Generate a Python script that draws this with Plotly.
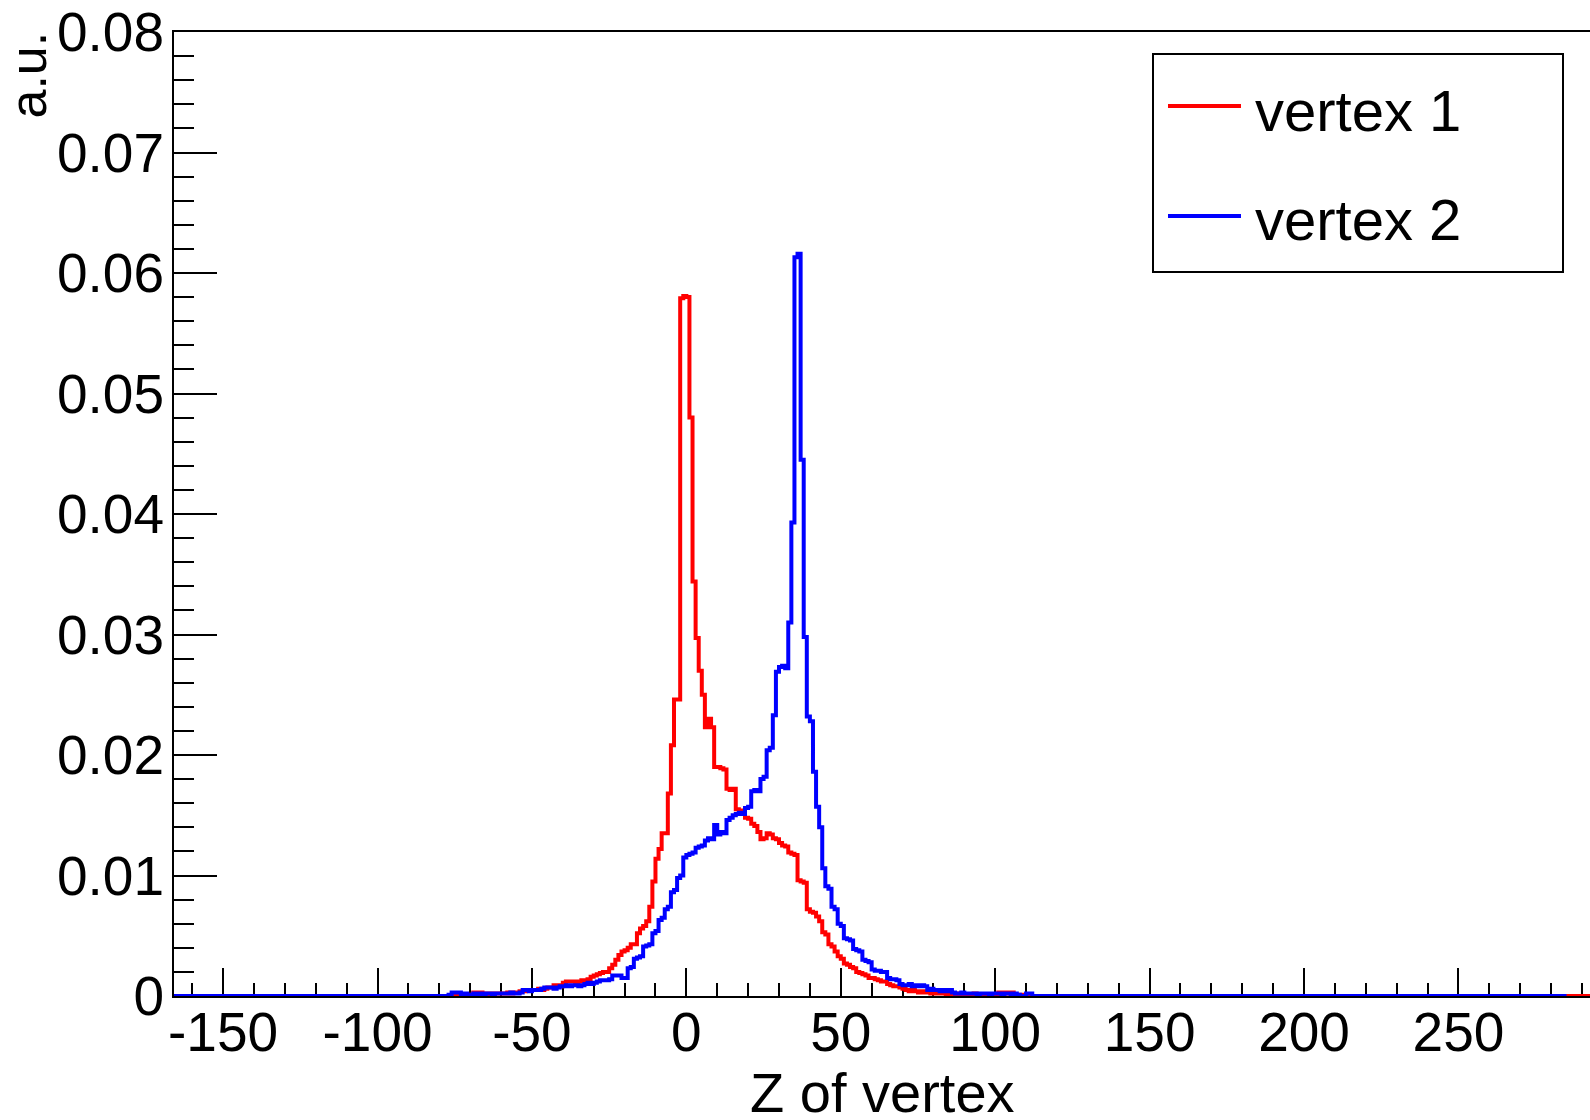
import numpy as np
import plotly.graph_objects as go

# ---------------- data ----------------
BIN_WIDTH = 1.0
Z_FIRST = -80                 # left edge of first listed bin
RED_HIST_RANGE = (-170, 300)  # full histogram extent (zero outside listed bins)
BLUE_HIST_RANGE = (-170, 285)

# vertex 1 (red), bins of width 1 from z = -80 to z = 112
vertex1 = [
    0, 0, 0, 0, 0, 0, 0, 0.0001, 0, 0.0001,                                   # -80..-71
    0.0001, 0.0003, 0.0003, 0.0003, 0.0002, 0.0001, 0.0002, 0.0001, 0.0002, 0.0002,  # -70..-61
    0.0002, 0.0002, 0.0003, 0.0002, 0.0003, 0.0003, 0.0004, 0.0004, 0.0005, 0.0005,  # -60..-51
    0.0005, 0.0005, 0.0006, 0.0005, 0.0006, 0.0007, 0.0007, 0.0009, 0.0009, 0.0008,  # -50..-41
    0.0011, 0.0012, 0.0012, 0.0012, 0.0011, 0.0012, 0.0013, 0.0012, 0.0014, 0.0016,  # -40..-31
    0.0017, 0.0018, 0.0019, 0.0020, 0.0020, 0.0023, 0.0026, 0.0030, 0.0034, 0.0037,  # -30..-21
    0.0038, 0.0040, 0.0043, 0.0043, 0.0052, 0.0056, 0.0058, 0.0062, 0.0074, 0.0095,  # -20..-11
    0.0114, 0.0122, 0.0135, 0.0135, 0.0168, 0.0208, 0.0246, 0.0246, 0.0579, 0.0581,  # -10..-1
    0.0580, 0.0480, 0.0344, 0.0297, 0.0270, 0.0250, 0.0223, 0.0230, 0.0223, 0.0190,  # 0..9
    0.0190, 0.0189, 0.0188, 0.0172, 0.0171, 0.0172, 0.0155, 0.0154, 0.0153, 0.0148,  # 10..19
    0.0147, 0.0143, 0.0141, 0.0136, 0.0130, 0.0131, 0.0135, 0.0134, 0.0131, 0.0130,  # 20..29
    0.0127, 0.0125, 0.0124, 0.0119, 0.0118, 0.0117, 0.0096, 0.0095, 0.0094, 0.0072,  # 30..39
    0.0070, 0.0069, 0.0066, 0.0062, 0.0053, 0.0051, 0.0043, 0.0041, 0.0037, 0.0033,  # 40..49
    0.0031, 0.0027, 0.0026, 0.0024, 0.0023, 0.0020, 0.0019, 0.0018, 0.0017, 0.0015,  # 50..59
    0.0015, 0.0014, 0.0013, 0.0012, 0.0012, 0.0010, 0.0009, 0.0008, 0.0008, 0.0007,  # 60..69
    0.0006, 0.0005, 0.0004, 0.0005, 0.0004, 0.0003, 0.0004, 0.0003, 0.0003, 0.0002,  # 70..79
    0.0003, 0.0002, 0.0002, 0.0002, 0.0001, 0.0002, 0.0001, 0.0001, 0.0002, 0.0001,  # 80..89
    0.0001, 0.0001, 0.0001, 0.0002, 0.0001, 0.0001, 0.0001, 0.0001, 0.0001, 0.0001,  # 90..99
    0.0001, 0.0003, 0.0002, 0.0003, 0.0002, 0.0003, 0.0001, 0.0001, 0, 0.0001,       # 100..109
    0, 0,                                                                            # 110..111
]

# vertex 2 (blue), same binning
vertex2 = [
    0, 0, 0, 0.0001, 0.0003, 0.0003, 0.0003, 0.0001, 0.0002, 0.0001,                 # -80..-71
    0.0001, 0.0002, 0.0001, 0.0002, 0.0001, 0.0002, 0.0002, 0.0001, 0.0002, 0.0002,  # -70..-61
    0.0002, 0.0002, 0.0002, 0.0003, 0.0002, 0.0002, 0.0003, 0.0005, 0.0005, 0.0004,  # -60..-51
    0.0005, 0.0005, 0.0005, 0.0006, 0.0007, 0.0007, 0.0007, 0.0006, 0.0007, 0.0008,  # -50..-41
    0.0008, 0.0009, 0.0008, 0.0009, 0.0009, 0.0008, 0.0009, 0.0010, 0.0011, 0.0010,  # -40..-31
    0.0011, 0.0012, 0.0013, 0.0013, 0.0013, 0.0014, 0.0017, 0.0017, 0.0017, 0.0015,  # -30..-21
    0.0015, 0.0023, 0.0024, 0.0031, 0.0032, 0.0033, 0.0041, 0.0042, 0.0043, 0.0052,  # -20..-11
    0.0054, 0.0063, 0.0065, 0.0072, 0.0074, 0.0086, 0.0088, 0.0098, 0.0100, 0.0115,  # -10..-1
    0.0117, 0.0118, 0.0119, 0.0123, 0.0124, 0.0125, 0.0129, 0.0131, 0.0130, 0.0142,  # 0..9
    0.0134, 0.0136, 0.0135, 0.0146, 0.0148, 0.0150, 0.0151, 0.0152, 0.0151, 0.0156,  # 10..19
    0.0157, 0.0170, 0.0171, 0.0170, 0.0180, 0.0182, 0.0204, 0.0206, 0.0233, 0.0269,  # 20..29
    0.0273, 0.0274, 0.0272, 0.0310, 0.0393, 0.0613, 0.0616, 0.0445, 0.0298, 0.0232,  # 30..39
    0.0228, 0.0186, 0.0157, 0.0140, 0.0106, 0.0091, 0.0089, 0.0074, 0.0072, 0.0060,  # 40..49
    0.0058, 0.0048, 0.0047, 0.0046, 0.0039, 0.0038, 0.0037, 0.0030, 0.0029, 0.0028,  # 50..59
    0.0022, 0.0021, 0.0021, 0.0020, 0.0020, 0.0015, 0.0014, 0.0014, 0.0013, 0.0010,  # 60..69
    0.0009, 0.0009, 0.0010, 0.0008, 0.0009, 0.0008, 0.0009, 0.0008, 0.0005, 0.0006,  # 70..79
    0.0005, 0.0005, 0.0004, 0.0005, 0.0004, 0.0005, 0.0003, 0.0002, 0.0002, 0.0003,  # 80..89
    0.0002, 0.0002, 0.0002, 0.0002, 0.0001, 0.0002, 0.0002, 0.0002, 0.0001, 0.0002,  # 90..99
    0.0002, 0.0002, 0.0001, 0.0002, 0.0002, 0.0001, 0.0002, 0.0001, 0, 0,            # 100..109
    0.0002, 0.0002,                                                                  # 110..111
]

SERIES_NAMES = ["vertex 1", "vertex 2"]
SERIES_COLORS = ["#ff0000", "#0000ff"]

X_TICK_VALUES = [-150, -100, -50, 0, 50, 100, 150, 200, 250]
X_TICK_LABELS = ["-150", "-100", "-50", "0", "50", "100", "150", "200", "250"]
X_RANGE = [-165.9, 292.6]
Y_RANGE = [0, 0.08]
X_TITLE = "Z of vertex"
Y_TITLE = "a.u."

# ---------------- layout constants ----------------
W, H = 1590, 1120
ML, MR, MT, MB = 174, 0, 32, 124
PW, PH = W - ML - MR, H - MT - MB
FONT = "Liberation Sans, Arial, Helvetica, sans-serif"
TICK_FONT_SIZE = 55


def px_x(px):
    return (px - ML) / PW


def px_y(py):
    return (H - MB - py) / PH


def step_xy(values, hist_range):
    lo, hi = hist_range
    n_before = int(round((Z_FIRST - lo) / BIN_WIDTH))
    n_after = int(round((hi - (Z_FIRST + len(values) * BIN_WIDTH)) / BIN_WIDTH))
    full = [0.0] * n_before + list(values) + [0.0] * n_after
    edges = lo + BIN_WIDTH * np.arange(len(full) + 1)
    return edges, full + [full[-1]]


fig = go.Figure()
for vals, rng, name, col in [
    (vertex1, RED_HIST_RANGE, SERIES_NAMES[0], SERIES_COLORS[0]),
    (vertex2, BLUE_HIST_RANGE, SERIES_NAMES[1], SERIES_COLORS[1]),
]:
    ex, ey = step_xy(vals, rng)
    fig.add_trace(go.Scatter(x=ex, y=ey, mode="lines", name=name,
                             line=dict(color=col, width=4, shape="hv"),
                             showlegend=False))

fig.update_layout(
    width=W, height=H,
    margin=dict(l=ML, r=MR, t=MT, b=MB, pad=0, autoexpand=False),
    paper_bgcolor="white", plot_bgcolor="white",
    font=dict(family=FONT, color="black", size=TICK_FONT_SIZE),
    showlegend=False,
)

fig.update_xaxes(
    range=X_RANGE, showgrid=False, zeroline=False, automargin=False,
    showline=True, linecolor="black", linewidth=2, mirror=True,
    ticks="inside", ticklen=28, tickwidth=2, tickcolor="black",
    tickvals=X_TICK_VALUES, ticktext=X_TICK_LABELS,
    tickfont=dict(size=TICK_FONT_SIZE, family=FONT, color="black"),
    ticklabelstandoff=-13,
    minor=dict(dtick=10, tick0=0, ticks="inside", ticklen=13, tickwidth=2, tickcolor="black"),
    layer="below traces",
)
fig.update_yaxes(
    range=Y_RANGE, showgrid=False, zeroline=False, automargin=False,
    showline=True, linecolor="black", linewidth=2, mirror=False,
    ticks="inside", ticklen=43, tickwidth=2, tickcolor="black",
    dtick=0.01, tick0=0,
    tickfont=dict(size=TICK_FONT_SIZE, family=FONT, color="black"),
    ticklabelstandoff=-3,
    minor=dict(dtick=0.002, tick0=0, ticks="inside", ticklen=20, tickwidth=2, tickcolor="black"),
    layer="below traces",
)

annotations = [
    dict(text=X_TITLE, xref="paper", yref="paper", x=0.5, y=0, yshift=-96,
         xanchor="center", yanchor="middle", showarrow=False,
         font=dict(size=56, family=FONT, color="black")),
    dict(text=Y_TITLE, xref="paper", yref="paper", x=0, y=1, xshift=-147, yshift=2,
         xanchor="center", yanchor="top", textangle=-90, showarrow=False,
         font=dict(size=52, family=FONT, color="black")),
]
shapes = [
    dict(type="rect", xref="paper", yref="paper",
         x0=px_x(1153), x1=px_x(1563), y0=px_y(272), y1=px_y(54),
         line=dict(color="black", width=2), fillcolor="white", layer="above"),
]
legend_rows_y = [106, 216]
for name, col, ly in zip(SERIES_NAMES, SERIES_COLORS, legend_rows_y):
    shapes.append(dict(type="line", xref="paper", yref="paper",
                       x0=px_x(1168), x1=px_x(1241), y0=px_y(ly), y1=px_y(ly),
                       line=dict(color=col, width=4), layer="above"))
    annotations.append(dict(text=name, xref="paper", yref="paper",
                            x=px_x(1253), y=px_y(ly + 4), xanchor="left", yanchor="middle",
                            showarrow=False, font=dict(size=58, family=FONT, color="black")))

fig.update_layout(annotations=annotations, shapes=shapes)

fig.write_html(
    "out.html",
    config={"displayModeBar": False},
    post_script="document.body.style.margin='0';document.body.style.padding='0';"
                "document.body.style.overflow='hidden';",
)
